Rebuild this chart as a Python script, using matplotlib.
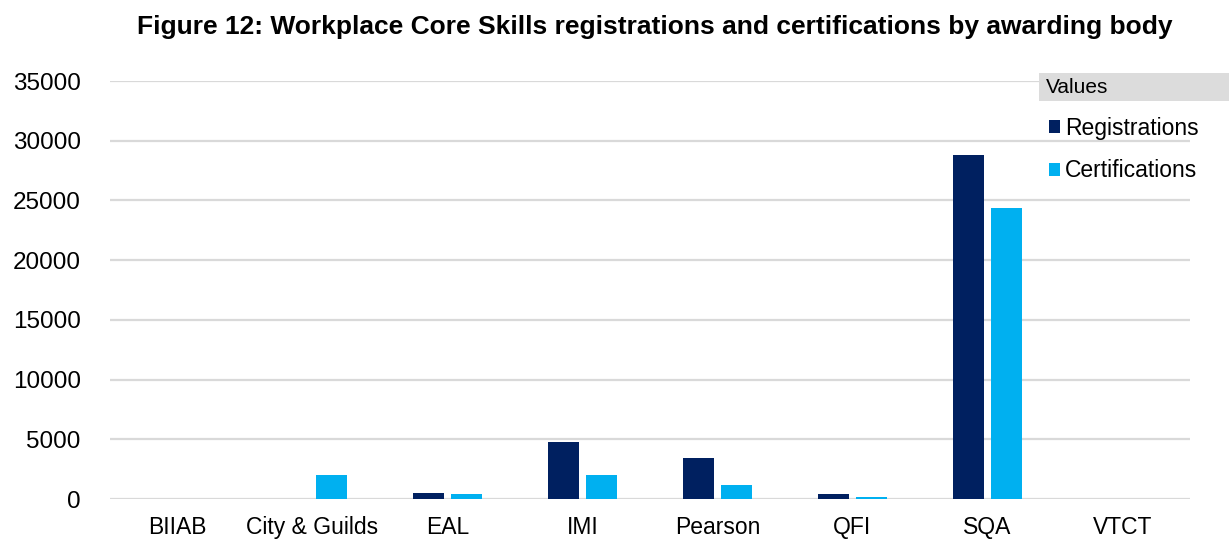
import numpy as np
import matplotlib.pyplot as plt
from matplotlib.patches import Patch

# awarding bodies and counts
bodies = ["BIIAB", "City & Guilds", "EAL", "IMI", "Pearson", "QFI", "SQA", "VTCT"]
registrations = [0, 0, 530, 4750, 3460, 390, 28800, 0]
certifications = [0, 1990, 390, 2000, 1170, 200, 24400, 0]

reg_color = "#002060"
cert_color = "#00b0f0"

plt.rcParams["font.family"] = ["Liberation Sans", "DejaVu Sans"]

fig = plt.figure(figsize=(12.29, 5.39), dpi=100)
ax = fig.add_axes([0.0895, 0.0742, 0.8785, 0.7755])

x = np.arange(len(bodies))
bar_w = 0.23
off = 0.14
ax.bar(x - off, registrations, bar_w, color=reg_color, zorder=3)
ax.bar(x + off, certifications, bar_w, color=cert_color, zorder=3)

ax.set_xlim(-0.5, len(bodies) - 0.5)
ax.set_ylim(0, 35000)
ax.set_yticks(np.arange(0, 35001, 5000))
ax.set_xticks(x)
ax.set_xticklabels(bodies)
ax.tick_params(axis="both", length=0, colors="#000000")
ax.tick_params(axis="y", pad=21, labelsize=17.5)
ax.tick_params(axis="x", pad=12, labelsize=16.5)
ax.grid(axis="y", color="#d9d9d9", linewidth=1.6, zorder=0)
for s in ax.spines.values():
    s.set_visible(False)

fig.text(0.533, 0.950, "Figure 12: Workplace Core Skills registrations and certifications by awarding body",
         ha="center", va="center", fontsize=19, fontweight="bold")

# legend header box
fig.patches.append(plt.Rectangle((0.845, 0.813), 0.16, 0.052, transform=fig.transFigure,
                                 facecolor="#dcdcdc", edgecolor="none", zorder=0))
fig.text(0.851, 0.838, "Values", ha="left", va="center", fontsize=15)

handles = [Patch(facecolor=reg_color, label="Registrations"),
           Patch(facecolor=cert_color, label="Certifications")]
fig.legend(handles=handles, loc="upper left", bbox_to_anchor=(0.846, 0.8),
           frameon=False, fontsize=16.5, handlelength=0.5, handleheight=0.5,
           handletextpad=0.2, labelspacing=0.85, borderaxespad=0)

fig.savefig("out.png", dpi=100)
